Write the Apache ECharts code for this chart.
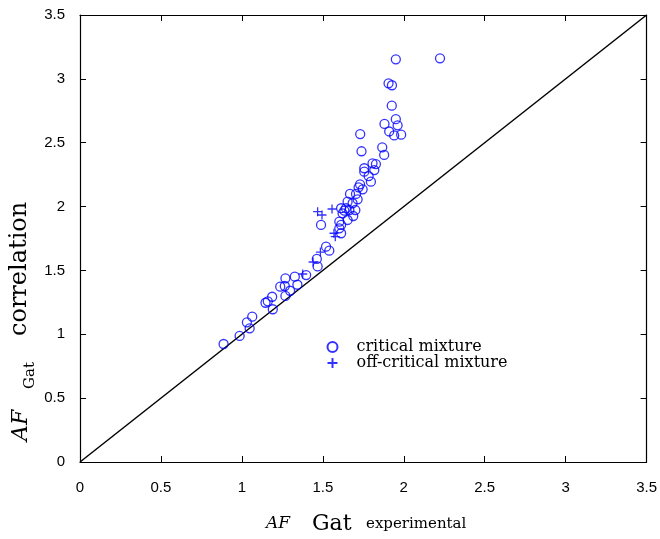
<!DOCTYPE html>
<html><head><meta charset="utf-8">
<script src="https://cdn.jsdelivr.net/npm/echarts@6/dist/echarts.min.js"></script>
<style>html,body{margin:0;padding:0;background:#fff}#c{width:660px;height:539px}</style>
</head><body><div id="c"></div>
<script>
const xTicks = [0, 0.5, 1, 1.5, 2, 2.5, 3, 3.5];
const yTicks = [0, 0.5, 1, 1.5, 2, 2.5, 3, 3.5];
const criticalX = [0.887,0.986,1.031,1.048,1.064,1.146,1.160,1.187,1.191,1.237,1.269,1.265,1.269,1.298,1.327,1.343,1.397,1.463,1.468,1.489,1.520,1.540,1.602,1.613,1.602,1.613,1.622,1.653,1.613,1.643,1.633,1.664,1.684,1.701,1.653,1.668,1.705,1.715,1.721,1.730,1.746,1.756,1.756,1.783,1.797,1.807,1.828,1.818,1.731,1.739,1.867,1.879,1.881,1.910,1.906,1.927,1.926,1.951,1.962,1.941,1.984,1.951,2.224,1.688];
const criticalY = [0.924,0.987,1.094,1.047,1.138,1.247,1.258,1.294,1.196,1.373,1.438,1.378,1.300,1.341,1.451,1.388,1.464,1.590,1.531,1.856,1.686,1.655,1.830,1.856,1.882,1.791,1.947,1.895,1.987,1.987,1.968,1.973,2.026,1.973,2.038,2.099,2.099,2.057,2.151,2.174,2.135,2.300,2.273,2.239,2.195,2.339,2.333,2.286,2.568,2.433,2.464,2.404,2.647,2.588,2.965,2.950,2.790,2.684,2.636,2.557,2.563,3.153,3.161,1.926];
const offX = [1.376,1.440,1.485,1.468,1.495,1.557,1.569,1.577];
const offY = [1.472,1.566,1.644,1.960,1.934,1.981,1.791,1.764];
const diagX = [0, 3.5];
const diagY = [0, 3.5];

const chart = echarts.init(document.getElementById('c'), null, {renderer:'canvas'});
const zip = (a,b) => a.map((v,i)=>[v,b[i]]);
const tickFmt = v => (Math.abs(v - Math.round(v)) < 1e-9 ? String(Math.round(v)) : String(v));
const axisCommon = {
  type:'value', min:xTicks[0], max:xTicks[xTicks.length-1], interval:0.5,
  axisLine:{show:true, onZero:false, lineStyle:{color:'#000', width:1.2}},
  axisTick:{show:true, inside:true, length:6, lineStyle:{color:'#000', width:1}},
  splitLine:{show:false}
};
const plus = 'path://M-5,0L5,0M0,-5L0,5';
const serif = 'DejaVu Serif';
chart.setOption({
  animation:false,
  grid:{left:80, right:12, top:15, bottom:77},
  xAxis:[
    Object.assign({}, axisCommon, {position:'bottom',
      axisLabel:{show:true, margin:18, fontFamily:'Liberation Sans', fontSize:15, color:'#000', formatter:tickFmt}}),
    Object.assign({}, axisCommon, {position:'top', axisLabel:{show:false}})
  ],
  yAxis:[
    Object.assign({}, axisCommon, {position:'left',
      axisLabel:{show:true, margin:15, fontFamily:'Liberation Sans', fontSize:15, color:'#000', formatter:tickFmt}}),
    Object.assign({}, axisCommon, {position:'right', axisLabel:{show:false}})
  ],
  legend:{
    orient:'vertical', left:325, top:339, itemGap:0, itemWidth:10, itemHeight:10, padding:0,
    textStyle:{fontFamily:serif, fontSize:16, lineHeight:16, color:'#000', padding:[0,0,0,14]},
    data:[{name:'critical mixture', icon:'circle'},{name:'off-critical mixture'}]
  },
  graphic:[
    {type:'text', x:266, y:532, style:{text:'AF', fontFamily:serif, fontStyle:'italic', fontSize:17, fill:'#000', verticalAlign:'bottom'}},
    {type:'text', x:312, y:535, style:{text:'Gat', fontFamily:serif, fontSize:22, fill:'#000', verticalAlign:'bottom'}},
    {type:'text', x:366, y:532, style:{text:'experimental', fontFamily:serif, fontSize:15, fill:'#000', verticalAlign:'bottom'}},
    {type:'text', x:21, y:441, rotation:Math.PI/2, style:{text:'AF', fontFamily:serif, fontStyle:'italic', fontSize:22, fill:'#000', verticalAlign:'middle'}},
    {type:'text', x:30, y:389, rotation:Math.PI/2, style:{text:'Gat', fontFamily:serif, fontSize:15, fill:'#000', verticalAlign:'middle'}},
    {type:'text', x:20, y:336, rotation:Math.PI/2, style:{text:'correlation', fontFamily:serif, fontSize:24, fill:'#000', verticalAlign:'middle'}}
  ],
  series:[
    {type:'line', data:zip(diagX, diagY), symbol:'none', silent:true,
     lineStyle:{color:'#000', width:1.5}, z:1},
    {name:'critical mixture', type:'scatter', data:zip(criticalX, criticalY), symbol:'circle', symbolSize:9,
     itemStyle:{color:'none', borderColor:'#0000ff', borderWidth:1.3}, z:3},
    {name:'off-critical mixture', type:'scatter', data:zip(offX, offY), symbol:plus, symbolSize:9,
     itemStyle:{color:'none', borderColor:'#0000ff', borderWidth:1.3}, z:3}
  ]
});
</script></body></html>
